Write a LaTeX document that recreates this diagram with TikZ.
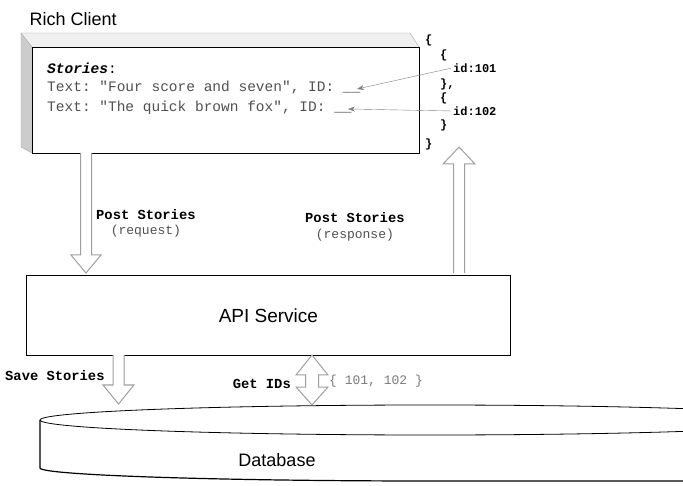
\documentclass[tikz,border=0pt]{standalone}
\usepackage{fontspec}
\setmainfont{Liberation Sans}
\setmonofont{Liberation Mono}
\usepackage{xcolor}
\usetikzlibrary{arrows.meta,positioning,calc}
\definecolor{codegray}{HTML}{505050}
\definecolor{lightcode}{HTML}{7A7A7A}
\tikzset{
  blk/.style={draw=gray!75, line width=1pt, fill=white, line join=miter},
  code/.style={font=\ttfamily\fontsize{14.5}{17}\selectfont, text=codegray, anchor=west, inner sep=0pt},
  json/.style={font=\ttfamily\bfseries\fontsize{12}{14}\selectfont, anchor=west, inner sep=1pt},
  lbl/.style={font=\ttfamily\bfseries\fontsize{13.8}{16}\selectfont, inner sep=1pt},
  sub/.style={font=\ttfamily\fontsize{13}{15}\selectfont, text=codegray, inner sep=1pt},
  idarrow/.style={draw=gray, -{Stealth[length=7pt,width=5pt]}, shorten <=1pt}
}

\begin{document}
\begin{tikzpicture}[x=1pt,y=-1pt]
\useasboundingbox (0,0) rectangle (683,486);
\fill[white] (0,0) rectangle (683,486);

% rich client box
\fill[gray!12] (21,33) -- (410,33) -- (419,47) -- (32,47) -- cycle;
\fill[gray!40] (21,33) -- (32,47) -- (32,153) -- (21,147) -- cycle;
\draw[gray!70] (21,33) -- (410,33) -- (419,47);
\draw[gray!70] (21,33) -- (32,47);
\draw[gray!70] (21,33) -- (21,147) -- (32,153);
\node[draw, thick, minimum width=387pt, minimum height=106pt, anchor=north west, inner sep=0pt] (client) at (32,47) {};
\node[anchor=west, font=\fontsize{18}{20}\selectfont] (title) at (26,19) {Rich Client};

\node[code, text=black, font=\ttfamily\bfseries\itshape\fontsize{14.5}{17}\selectfont] (storyhead) at (47,68) {Stories\textmd{\upshape:}};
\node[code] (story1) at (47,88) {Text: "Four score and seven", ID: \_\_};
\node[code] (story2) at (47,107.5) {Text: "The quick brown fox", ID: \_\_};
\coordinate (slot1) at (357,89);
\coordinate (slot2) at (348,109);

% ids sent back
\node[json] (ob) at (424,40) {\{};
\node[json] (ib1) at (439,55) {\{};
\node[json] (id1) at (452,68) {id:101};
\node[json] (ic1) at (439,84) {\},};
\node[json] (ib2) at (439,98) {\{};
\node[json] (id2) at (452,111) {id:102};
\node[json] (ic2) at (439,125) {\}};
\node[json] (oc) at (424,144) {\}};
\draw[idarrow] (id1.west) -- (slot1);
\draw[idarrow] (id2.west) -- (slot2);

% api service
\node[draw, thick, minimum width=484pt, minimum height=80pt, anchor=north west, font=\fontsize{19}{21}\selectfont] (api) at (26,275) {API Service};

% database
\draw[thick] (430,420) ellipse [x radius=390, y radius=15];
\draw[line width=1.2pt] (40,420) -- (40,468) .. controls (40,475) and (214.6,481) .. (430,481) -- (683,481);
\node[font=\fontsize{18}{20}\selectfont] (db) at (277,460) {Database};

% post stories request
\coordinate (reqtop) at (86,153);
\draw[blk] (reqtop) ++(-5.5,0) -- ++(0,102) -- ++(-9.5,0) -- ++(15,18) -- ++(15,-18) -- ++(-9.5,0) -- ++(0,-102);
\node[lbl, anchor=west] (reqlbl) at (95,215) {Post Stories};
\node[sub, below=3pt of reqlbl] (reqsub) {(request)};

% post stories response
\coordinate (respbot) at (459,273);
\draw[blk] (respbot) ++(-5.5,0) -- ++(0,-109) -- ++(-10.5,0) -- ++(16,-17) -- ++(16,17) -- ++(-10.5,0) -- ++(0,109);
\node[lbl, anchor=west] (resplbl) at (304,218) {Post Stories};
\node[sub, below=4pt of resplbl] (respsub) {(response)};

% save stories
\coordinate (savetop) at (118.5,355);
\draw[blk] (savetop) ++(-5.5,0) -- ++(0,30) -- ++(-10,0) -- ++(15.5,19) -- ++(15.5,-19) -- ++(-10,0) -- ++(0,-30);
\node[lbl, anchor=west] (savelbl) at (4,376) {Save Stories};

% get ids
\coordinate (getids) at (312,355);
\draw[blk] (getids) -- ++(16,20) -- ++(-9.5,0) -- ++(0,12) -- ++(9.5,0) -- ++(-16,18) -- ++(-16,-18) -- ++(9.5,0) -- ++(0,-12) -- ++(-9.5,0) -- cycle;
\node[lbl, anchor=east] (getlbl) at (292,384) {Get IDs};
\node[sub, text=lightcode, anchor=west] (idlist) at (328,381) {\{ 101, 102 \}};
\end{tikzpicture}
\end{document}
